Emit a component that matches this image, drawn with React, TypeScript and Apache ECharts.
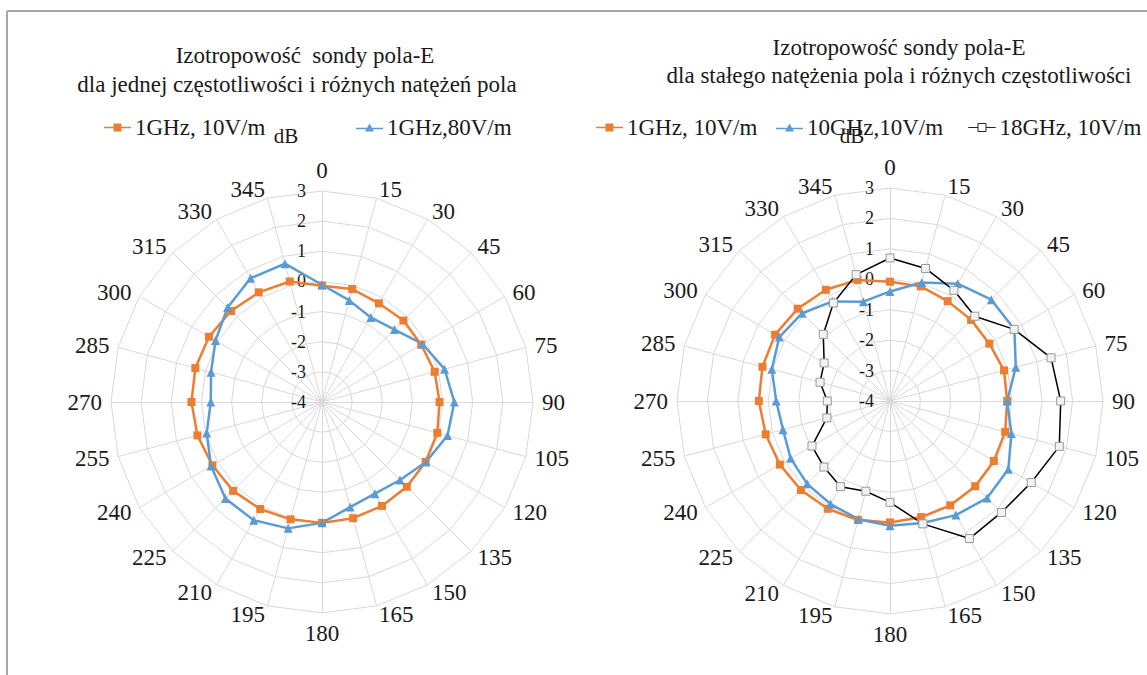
import React, { useEffect, useRef } from "react";
import * as echarts from "echarts";

// Angles of the spokes (degrees, clockwise from top)
const angles = [0, 15, 30, 45, 60, 75, 90, 105, 120, 135, 150, 165, 180, 195, 210, 225, 240, 255, 270, 285, 300, 315, 330, 345];
const ringMin = -4;
const ringMax = 3;

// Left chart: one frequency, different field strengths (dB)
const leftTitle1 = "Izotropowość  sondy pola-E";
const leftTitle2 = "dla jednej częstotliwości i różnych natężeń pola";
const leftNames = ["1GHz, 10V/m", "1GHz,80V/m"];
const left1GHz10 = [-0.14, -0.12, -0.22, -0.18, -0.2, -0.13, -0.1, -0.04, -0.03, -0.02, -0.02, -0.01, 0.01, 0.03, 0.1, 0.17, 0.2, 0.28, 0.33, 0.35, 0.33, 0.27, 0.2, 0.14];
const left1GHz80 = [-0.11, -0.51, -0.76, -0.6, -0.15, 0.21, 0.39, 0.31, -0.02, -0.34, -0.49, -0.39, 0.01, 0.34, 0.53, 0.53, 0.25, -0.04, -0.31, -0.19, 0.08, 0.43, 0.74, 0.75];

// Right chart: constant field strength, different frequencies (dB)
const rightTitle1 = "Izotropowość sondy pola-E";
const rightTitle2 = "dla stałego natężenia pola i różnych częstotliwości";
const rightNames = ["1GHz, 10V/m", "10GHz,10V/m", "18GHz, 10V/m"];
const right1GHz10 = [-0.08, -0.1, -0.21, -0.23, -0.23, -0.12, -0.15, -0.08, -0.06, -0.04, -0.04, -0.05, -0.01, 0.05, 0.09, 0.14, 0.18, 0.23, 0.31, 0.34, 0.36, 0.29, 0.22, 0.12];
const right10GHz10 = [-0.4, 0.03, 0.45, 0.71, 0.72, 0.28, -0.15, 0.13, 0.49, 0.51, 0.33, 0.15, 0.1, 0.02, -0.09, -0.15, -0.23, -0.36, -0.26, 0.02, 0.2, 0.08, -0.22, -0.62];
const right18GHz10 = [0.7, 0.51, 0.2, -0.06, 0.71, 1.48, 1.61, 1.76, 1.36, 1.18, 1.22, 0.18, -0.67, -0.93, -0.75, -0.93, -1.04, -1.85, -1.94, -1.62, -1.5, -0.9, -0.28, 0.3];

const unitLabel = "dB";

const ORANGE = "#ED7D31";
const BLUE = "#5B9BD5";
const BLACK = "#000000";
const GRID = "#D9D9D9";
const TEXT = "#1a1a1a";
const FONT = "Liberation Serif";

// ECharts radar runs counter-clockwise; reorder so that it reads clockwise
const order = angles.map((_, i) => (i === 0 ? 0 : angles.length - i));
const reorder = (arr: number[]) => order.map((k) => arr[k]);

const ICON_SQ = "path://M0,3.2 H27 V4.8 H0 Z M9.5,0 H17.5 V8 H9.5 Z";
const ICON_TRI = "path://M0,4.2 H27 V5.8 H0 Z M13.5,0 L18,8 L9,8 Z";
const ICON_WSQ = "path://M0,4 H9.5 V4 H0 Z M17.5,4 H27 V4 H17.5 Z M9.5,0 H17.5 V8 H9.5 Z";

function makeRadar(cx: number, cy: number, r: number) {
  return {
    center: [cx, cy],
    radius: r,
    startAngle: 90,
    splitNumber: 7,
    shape: "polygon",
    nameGap: 9,
    axisName: { color: TEXT, fontSize: 23, fontFamily: FONT },
    indicator: order.map((k) => ({
      name: String(angles[k]),
      min: ringMin,
      max: ringMax,
      ...(k === 0 ? { axisLabel: { show: true } } : {}),
    })),
    axisLine: { lineStyle: { color: GRID, width: 1 } },
    splitLine: { lineStyle: { color: GRID, width: 1 } },
    splitArea: { show: false },
    axisTick: { show: false },
    axisLabel: { show: false, color: TEXT, fontSize: 18, fontFamily: FONT, margin: 16, showMinLabel: true, showMaxLabel: true },
  };
}

function legendItem(name: string, icon: string, itemStyle: any, left: number, top: number) {
  return {
    left,
    top,
    selectedMode: false,
    itemWidth: 27,
    itemHeight: 8,
    itemGap: 0,
    padding: 0,
    textStyle: { fontSize: 23, fontFamily: FONT, color: TEXT, padding: [0, 0, 0, -1] },
    data: [{ name, icon, itemStyle }],
  };
}

function txt(text: string, x: number, y: number, size: number) {
  return {
    type: "text",
    x,
    y,
    silent: true,
    style: {
      text,
      fill: TEXT,
      fontSize: size,
      fontFamily: FONT,
      textAlign: "center",
      align: "center",
      textVerticalAlign: "middle",
      verticalAlign: "middle",
    },
  };
}

export default function App() {
  const ref = useRef<HTMLDivElement>(null);
  useEffect(() => {
    if (!ref.current) return;
    const chart = echarts.init(ref.current, undefined, { renderer: "svg" });
    const orangeItem = (name: string, values: number[]) => ({
      name,
      value: reorder(values),
      symbol: "rect",
      symbolSize: 8,
      itemStyle: { color: ORANGE },
      lineStyle: { color: ORANGE, width: 2.5 },
    });
    const blueItem = (name: string, values: number[]) => ({
      name,
      value: reorder(values),
      symbol: "triangle",
      symbolSize: 9,
      itemStyle: { color: BLUE },
      lineStyle: { color: BLUE, width: 2.5 },
    });
    const whiteItem = (name: string, values: number[]) => ({
      name,
      value: reorder(values),
      symbol: "rect",
      symbolSize: 8,
      itemStyle: { color: "#f2f2f2", borderColor: "#9a9a9a", borderWidth: 1 },
      lineStyle: { color: BLACK, width: 1.5 },
    });
    chart.setOption({
      animation: false,
      backgroundColor: "#ffffff",
      radar: [makeRadar(322, 402, 211), makeRadar(890, 401, 213)],
      legend: [
        legendItem(leftNames[0], ICON_SQ, { color: ORANGE, borderWidth: 0 }, 104, 116),
        legendItem(leftNames[1], ICON_TRI, { color: BLUE, borderWidth: 0 }, 356, 116),
        legendItem(rightNames[0], ICON_SQ, { color: ORANGE, borderWidth: 0 }, 596, 116),
        legendItem(rightNames[1], ICON_TRI, { color: BLUE, borderWidth: 0 }, 776, 116),
        legendItem(rightNames[2], ICON_WSQ, { color: "#ffffff", borderColor: "#222", borderWidth: 1 }, 968, 116),
      ],
      series: [
        {
          type: "radar",
          radarIndex: 0,
          silent: true,
          data: [orangeItem(leftNames[0], left1GHz10), blueItem(leftNames[1], left1GHz80)],
        },
        {
          type: "radar",
          radarIndex: 1,
          silent: true,
          data: [
            orangeItem(rightNames[0], right1GHz10),
            blueItem(rightNames[1], right10GHz10),
            whiteItem(rightNames[2], right18GHz10),
          ],
        },
      ],
      graphic: [
        { type: "line", silent: true, shape: { x1: 7, y1: 11, x2: 1147, y2: 11 }, style: { stroke: "#a6a6a6", lineWidth: 2 } },
        { type: "line", silent: true, shape: { x1: 7, y1: 11, x2: 7, y2: 675 }, style: { stroke: "#a6a6a6", lineWidth: 2 } },
        txt(leftTitle1, 305, 55, 23),
        txt(leftTitle2, 297, 84, 23),
        txt(rightTitle1, 899, 47, 23),
        txt(rightTitle2, 899, 75, 23),
        txt(unitLabel, 286, 136, 21),
        txt(unitLabel, 852, 136, 21),
      ],
    });
    return () => chart.dispose();
  }, []);
  return (
    <div
      ref={ref}
      style={{ position: "absolute", left: 0, top: 0, width: 1147, height: 675, background: "#fff" }}
    />
  );
}
